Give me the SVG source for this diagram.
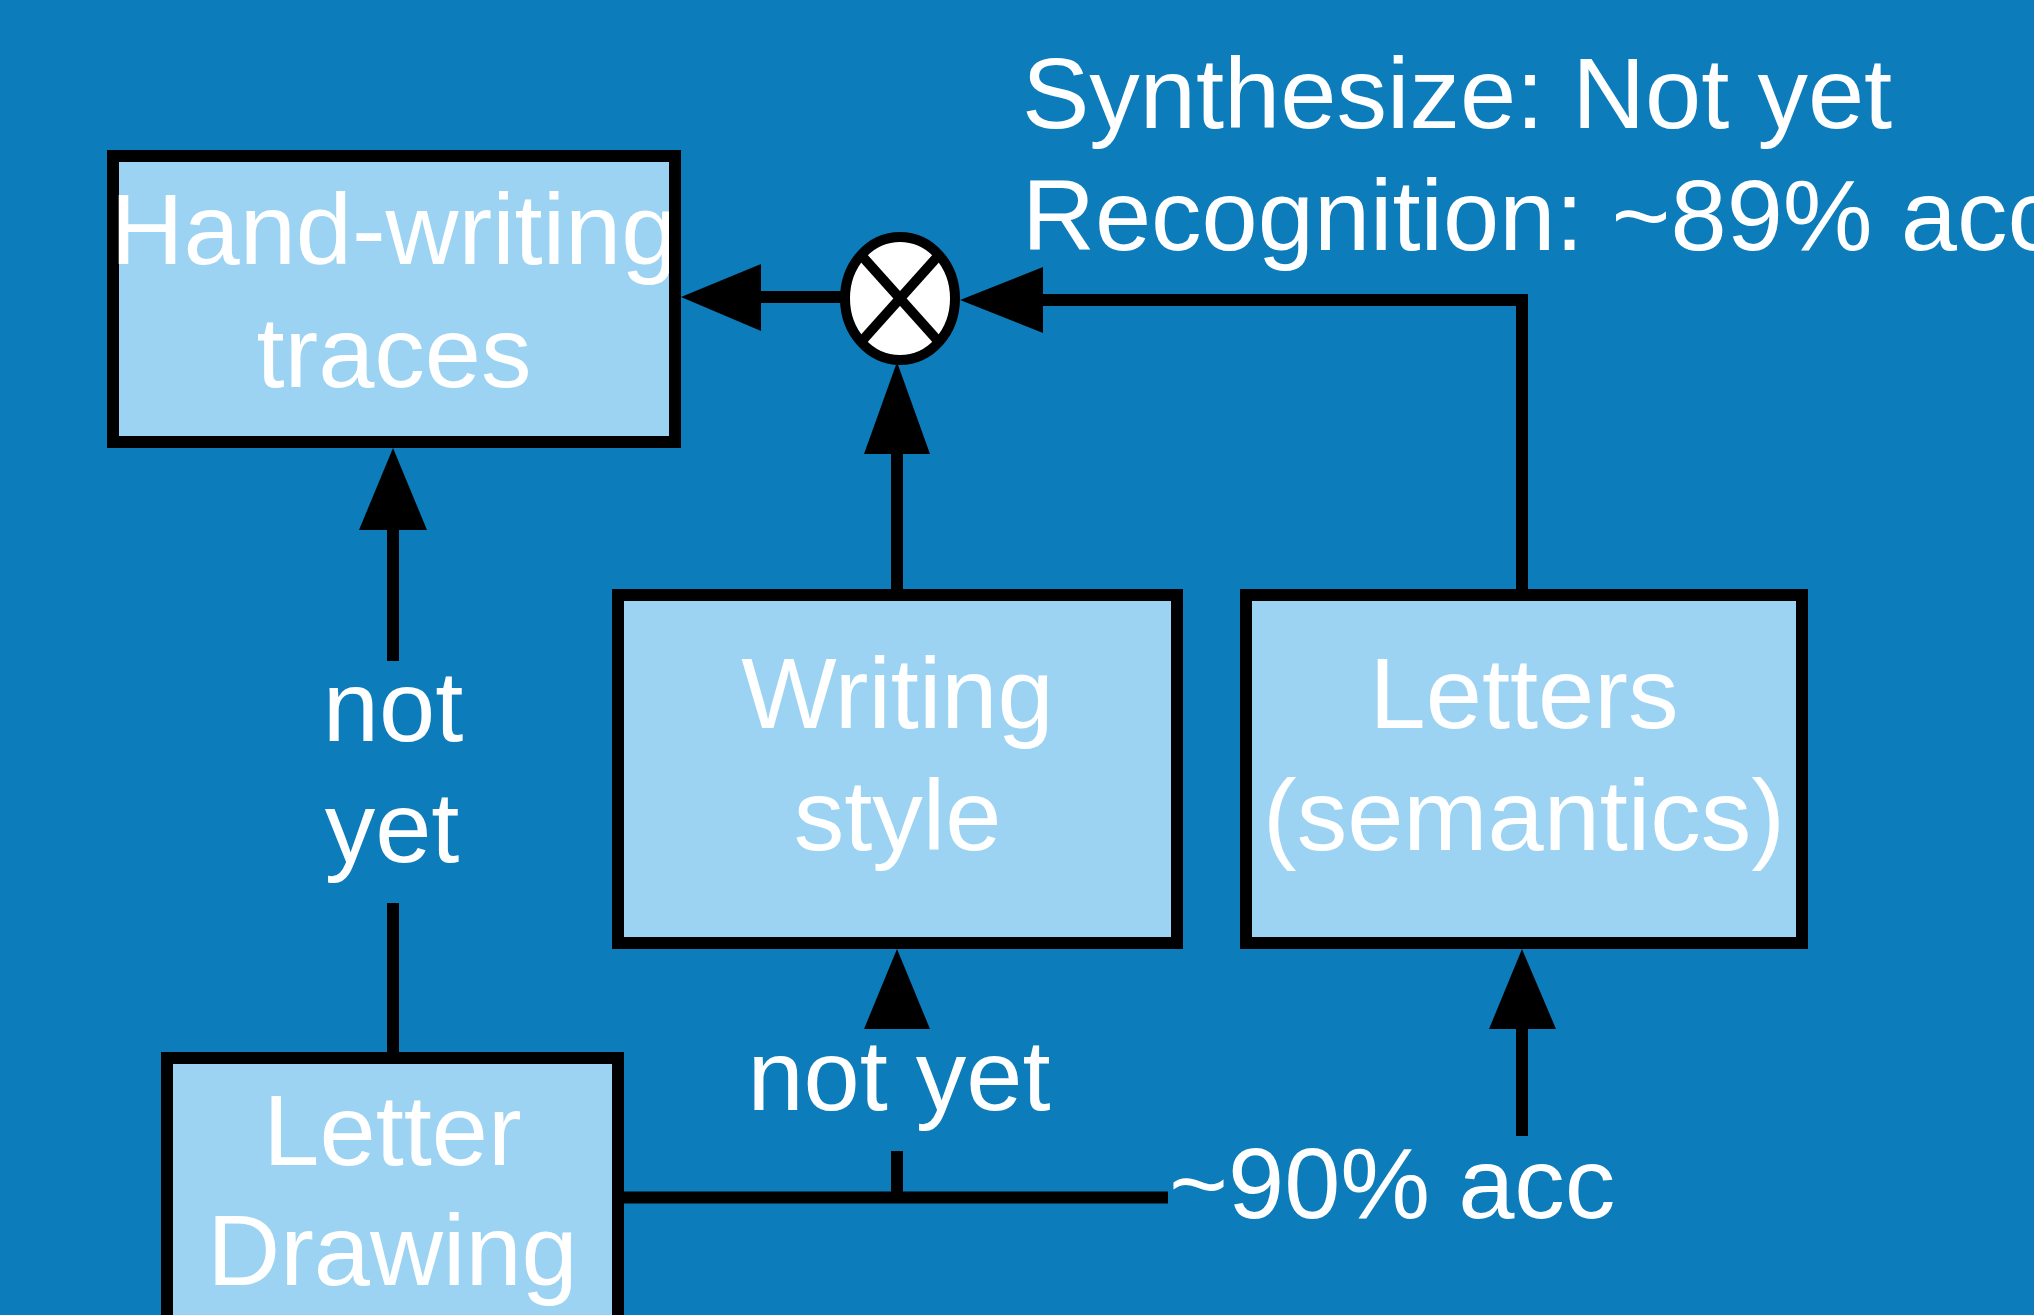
<svg xmlns="http://www.w3.org/2000/svg" width="2034" height="1315" viewBox="0 0 2034 1315">
  <style>
    .box { fill: #9CD3F2; stroke: #000; stroke-width: 12; }
    .t { fill: #fff; font-family: "Liberation Sans", Arial, sans-serif; font-size: 101px; }
    .c { text-anchor: middle; }
    .ln { stroke: #000; stroke-width: 12; fill: none; }
    .ah { fill: #000; }
  </style>
  <defs>
    <clipPath id="clipHW"><rect x="116" y="159" width="553" height="277"/></clipPath>
  </defs>
  <rect x="0" y="0" width="2034" height="1315" fill="#0D7CBB"/>

  <g id="connectors">
    <!-- circle to hand-writing -->
    <line class="ln" x1="845" y1="297" x2="755" y2="297"/>
    <polygon class="ah" points="681,297 761,264 761,331"/>
    <!-- letters to circle -->
    <path class="ln" d="M1522,589 V300 H1037"/>
    <polygon class="ah" points="960,300 1043,267 1043,333"/>
    <!-- writing style to circle -->
    <line class="ln" x1="897" y1="589" x2="897" y2="448"/>
    <polygon class="ah" points="897,362 864,454 930,454"/>
    <!-- letter drawing to hand-writing -->
    <line class="ln" x1="393" y1="1052" x2="393" y2="903"/>
    <line class="ln" x1="393" y1="661" x2="393" y2="524"/>
    <polygon class="ah" points="393,448 359,530 427,530"/>
    <!-- letter drawing to writing style / letters -->
    <line class="ln" x1="624" y1="1197.5" x2="1168" y2="1197.5"/>
    <line class="ln" x1="897" y1="1203" x2="897" y2="1151"/>
    <polygon class="ah" points="897,949 864,1029 930,1029"/>
    <line class="ln" x1="1522" y1="1136" x2="1522" y2="1023"/>
    <polygon class="ah" points="1522,949 1489,1029 1556,1029"/>
  </g>

  <g id="labels">
    <text class="t c" x="393" y="741">not</text>
    <text class="t c" x="392" y="862">yet</text>
    <text class="t c" x="899" y="1110">not yet</text>
    <text class="t" x="1169" y="1218">~90% acc</text>
    <text class="t" x="1022" y="128">Synthesize: Not yet</text>
    <text class="t" x="1022" y="250">Recognition: ~89% acc</text>
  </g>

  <g id="node-handwriting">
    <rect class="box" x="113" y="156" width="562" height="286"/>
    <g clip-path="url(#clipHW)">
      <text class="t c" x="394" y="264">Hand-writing</text>
      <text class="t c" x="394" y="387">traces</text>
    </g>
  </g>

  <g id="node-combine">
    <ellipse cx="900" cy="298.5" rx="55" ry="61.5" fill="#fff" stroke="#000" stroke-width="10"/>
    <line x1="861" y1="255" x2="939" y2="342" stroke="#000" stroke-width="10"/>
    <line x1="939" y1="255" x2="861" y2="342" stroke="#000" stroke-width="10"/>
  </g>

  <g id="node-writing-style">
    <rect class="box" x="618" y="595" width="559" height="348"/>
    <text class="t c" x="897.5" y="728">Writing</text>
    <text class="t c" x="897.5" y="850">style</text>
  </g>

  <g id="node-letters">
    <rect class="box" x="1246" y="595" width="556" height="348"/>
    <text class="t c" x="1524" y="728">Letters</text>
    <text class="t c" x="1524" y="850">(semantics)</text>
  </g>

  <g id="node-letter-drawing">
    <rect class="box" x="167" y="1058" width="451" height="300"/>
    <text class="t c" x="392.5" y="1165">Letter</text>
    <text class="t c" x="392.5" y="1285">Drawing</text>
  </g>
</svg>
